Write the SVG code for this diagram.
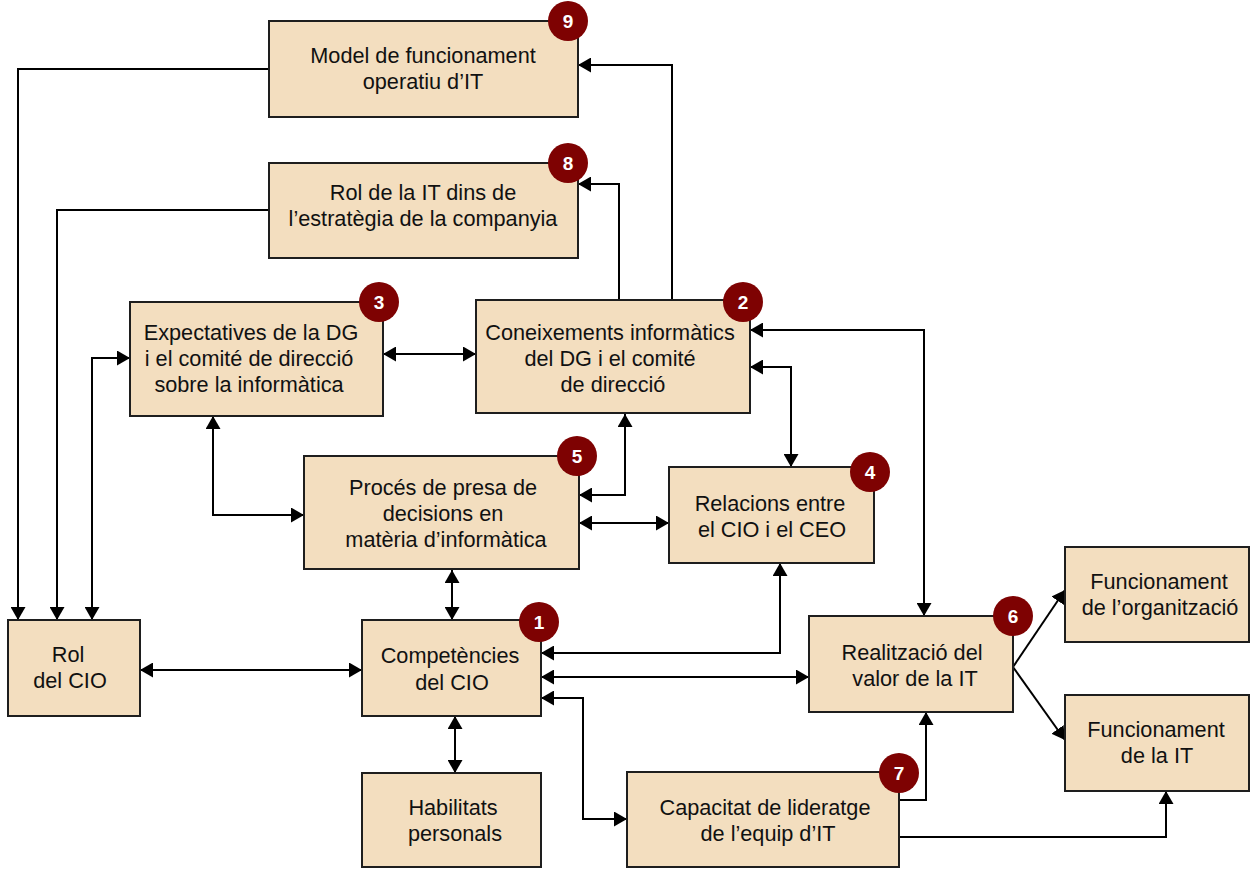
<svg xmlns="http://www.w3.org/2000/svg" width="1251" height="869" viewBox="0 0 1251 869">
<style>
.box{fill:#F3DEBF;stroke:#1e1e1e;stroke-width:2}
.t{font-family:"Liberation Sans",Arial,sans-serif;font-size:21.7px;fill:#111;text-anchor:middle}
.b{fill:#7E0202}
.n{font-family:"Liberation Sans",Arial,sans-serif;font-size:19px;font-weight:bold;fill:#fff;text-anchor:middle}
.c{fill:none;stroke:#000;stroke-width:2}
.c2{fill:none;stroke:#000;stroke-width:2;marker-end:url(#ah)}
.c3{fill:none;stroke:#000;stroke-width:2;marker-start:url(#ah);marker-end:url(#ah)}
</style>
<defs>
<marker id="ah" viewBox="0 0 13 15" refX="13" refY="7.5" markerWidth="13" markerHeight="15" markerUnits="userSpaceOnUse" orient="auto-start-reverse">
<path d="M0,0 L13,7.5 L0,15 z" fill="#000"/>
</marker>
</defs>
<rect width="1251" height="869" fill="#fff"/>
<g id="connectors">
<path class="c2" d="M269,69 H18 V620"/>
<path class="c2" d="M269,210 H57 V620"/>
<path class="c3" d="M92,620 V358 H130"/>
<path class="c3" d="M383,354 H476"/>
<path class="c3" d="M213,416 V515 H304"/>
<path class="c3" d="M579,495 H625 V414"/>
<path class="c3" d="M579,523 H669"/>
<path class="c3" d="M750,367 H791 V467"/>
<path class="c3" d="M750,330 H924 V616"/>
<path class="c2" d="M619,300 V184 H578"/>
<path class="c2" d="M672,300 V65 H578"/>
<path class="c3" d="M452,620 V570"/>
<path class="c3" d="M140,670 H362"/>
<path class="c3" d="M780,563 V653 H541"/>
<path class="c3" d="M541,677 H809"/>
<path class="c3" d="M541,698 H583 V819 H627"/>
<path class="c3" d="M455,716 V773"/>
<path class="c2" d="M899,800 H926 V712"/>
<path class="c2" d="M899,837 H1166 V791"/>
<path class="c2" d="M1013,667 L1065,590"/>
<path class="c2" d="M1013,667 L1065,740"/>
</g>
<g id="n9">
<rect class="box" x="269" y="21" width="309" height="96"/>
<text class="t" x="423" y="63">Model de funcionament</text>
<text class="t" x="423" y="89">operatiu d’IT</text>
<circle class="b" cx="568" cy="21" r="20"/><text class="n" x="568" y="28">9</text>
</g>
<g id="n8">
<rect class="box" x="269" y="163" width="309" height="95"/>
<text class="t" x="423" y="200">Rol de la IT dins de</text>
<text class="t" x="423" y="226">l’estratègia de la companyia</text>
<circle class="b" cx="568" cy="163" r="20"/><text class="n" x="568" y="170">8</text>
</g>
<g id="n3">
<rect class="box" x="130" y="302" width="253" height="114"/>
<text class="t" x="251" y="340">Expectatives de la DG</text>
<text class="t" x="249" y="366">i el comité de direcció</text>
<text class="t" x="249" y="392">sobre la informàtica</text>
<circle class="b" cx="379" cy="302" r="20"/><text class="n" x="379" y="309">3</text>
</g>
<g id="n2">
<rect class="box" x="476" y="300" width="274" height="113"/>
<text class="t" x="610" y="340">Coneixements informàtics</text>
<text class="t" x="610" y="366">del DG i el comité</text>
<text class="t" x="613" y="392">de direcció</text>
<circle class="b" cx="743" cy="302" r="20"/><text class="n" x="743" y="309">2</text>
</g>
<g id="n5">
<rect class="box" x="304" y="456" width="275" height="113"/>
<text class="t" x="443" y="495">Procés de presa de</text>
<text class="t" x="443" y="521">decisions en</text>
<text class="t" x="446" y="547">matèria d’informàtica</text>
<circle class="b" cx="577" cy="456" r="20"/><text class="n" x="577" y="463">5</text>
</g>
<g id="n4">
<rect class="box" x="669" y="467" width="205" height="96"/>
<text class="t" x="770" y="511">Relacions entre</text>
<text class="t" x="772" y="537">el CIO i el CEO</text>
<circle class="b" cx="870" cy="472" r="20"/><text class="n" x="870" y="479">4</text>
</g>
<g id="rol">
<rect class="box" x="8" y="620" width="132" height="96"/>
<text class="t" x="68" y="662">Rol</text>
<text class="t" x="70" y="688">del CIO</text>
</g>
<g id="n1">
<rect class="box" x="362" y="620" width="179" height="96"/>
<text class="t" x="450" y="663">Competències</text>
<text class="t" x="452" y="690">del CIO</text>
<circle class="b" cx="539" cy="622" r="20"/><text class="n" x="539" y="629">1</text>
</g>
<g id="habilitats">
<rect class="box" x="362" y="773" width="179" height="94"/>
<text class="t" x="453" y="815">Habilitats</text>
<text class="t" x="455" y="841">personals</text>
</g>
<g id="n7">
<rect class="box" x="627" y="772" width="272" height="95"/>
<text class="t" x="765" y="815">Capacitat de lideratge</text>
<text class="t" x="768" y="841">de l’equip d’IT</text>
<circle class="b" cx="899" cy="773" r="20"/><text class="n" x="899" y="780">7</text>
</g>
<g id="n6">
<rect class="box" x="809" y="616" width="204" height="96"/>
<text class="t" x="912" y="660">Realització del</text>
<text class="t" x="915" y="686">valor de la IT</text>
<circle class="b" cx="1013" cy="616" r="20"/><text class="n" x="1013" y="623">6</text>
</g>
<g id="func-org">
<rect class="box" x="1065" y="547" width="184" height="95"/>
<text class="t" x="1159" y="589">Funcionament</text>
<text class="t" x="1160" y="615">de l’organització</text>
</g>
<g id="func-it">
<rect class="box" x="1065" y="695" width="184" height="96"/>
<text class="t" x="1156" y="737">Funcionament</text>
<text class="t" x="1157" y="763">de la IT</text>
</g>
</svg>
